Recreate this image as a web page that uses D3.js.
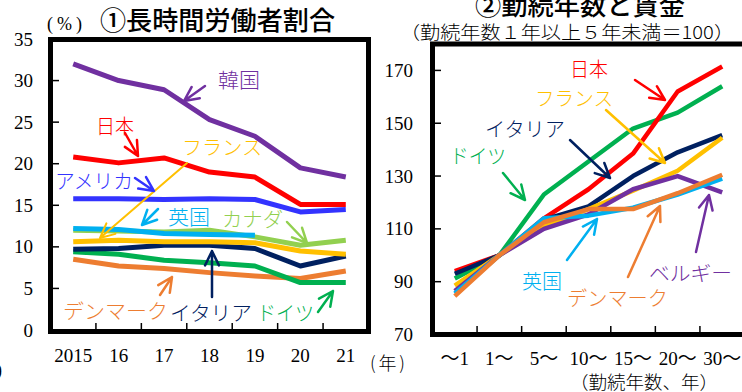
<!DOCTYPE html>
<html><head><meta charset="utf-8">
<script src="https://cdn.jsdelivr.net/npm/d3@7"></script>
<style>
html,body{margin:0;padding:0;background:#fff;}
svg{display:block;}
</style></head>
<body>
<svg id="c" width="742" height="392"></svg>
<script>
// ---------- DATA: chart 1 (long working hours share, %) ----------
const years = ["2015","16","17","18","19","20","21"];
const yTicks1 = [0,5,10,15,20,25,30,35];
const korea   = [32.0, 30.0, 28.9, 25.3, 23.3, 19.5, 18.4];
const japan   = [20.8, 20.1, 20.7, 19.0, 18.4, 15.1, 15.1];
const usa     = [15.8, 15.8, 15.7, 15.8, 15.7, 14.2, 14.5];
const uk1     = [12.2, 12.1, 11.6, 11.5, 11.4];
const canada  = [12.0, 11.9, 11.8, 12.0, 11.2, 10.2, 10.8];
const france1 = [10.6, 10.8, 10.6, 10.6, 10.5,  9.5,  9.1];
const italy1  = [ 9.7,  9.8, 10.2, 10.2,  9.8,  7.7,  8.9];
const germany1= [ 9.4,  9.1,  8.4,  8.1,  7.7,  5.7,  5.7];
const denmark1= [ 8.5,  7.7,  7.4,  6.9,  6.5,  6.2,  7.1];

// ---------- DATA: chart 2 (tenure and wage, 1-5yrs = 100) ----------
const tenure = ["～1","1～","5～","10～","15～","20～","30～"];
const yTicks2 = [70,90,110,130,150,170];
const germany2= [91.2, 100, 123.0, 135.5, 148.0, 154.0, 164.0];
const japan2  = [94.0, 100, 114.0, 125.0, 138.5, 162.0, 171.5];
const italy2  = [93.0, 100, 113.5, 118.5, 130.0, 139.0, 145.5];
const france2 = [88.5, 100, 111.0, 117.5, 124.5, 132.0, 144.5];
const belgium = [86.5, 100, 110.0, 115.5, 125.0, 130.0, 123.8];
const uk2     = [85.5, 100, 114.0, 115.0, 118.0, 123.0, 129.0];
const denmark2= [84.5, 100, 112.5, 117.5, 117.5, 123.5, 130.5];

// ---------- styles ----------
const C = {kr:"#7030A0", jp:"#FF0000", us:"#3333FF", uk:"#00B0F0", ca:"#92D050",
           fr:"#FFC000", it:"#002060", de:"#00B050", dk:"#ED7D31", be:"#7030A0"};
const serif = "'Liberation Serif','Noto Sans CJK JP',serif";
const jfont = "'Noto Sans CJK JP','Noto Sans',sans-serif";

const svg = d3.select("#c");

// ---------- chart 1 ----------
const x1 = d3.scaleBand().domain(years).range([50.5, 368.5]);
const y1 = d3.scaleLinear().domain([0,35]).range([330, 39]);
const series1 = [
  {v:denmark1,c:C.dk},{v:germany1,c:C.de},{v:italy1,c:C.it},{v:france1,c:C.fr},
  {v:canada,c:C.ca},{v:uk1,c:C.uk},{v:usa,c:C.us},{v:japan,c:C.jp},{v:korea,c:C.kr}
];
const g1 = svg.append("g");
const line1 = d3.line().x((d,i)=>x1(years[i])+x1.bandwidth()/2).y(d=>y1(d));
series1.forEach(s=>{
  g1.append("path").attr("d",line1(s.v)).attr("fill","none").attr("stroke",s.c)
    .attr("stroke-width",5).attr("stroke-linejoin","round");
});
// frame
g1.append("rect").attr("x",50.5).attr("y",39.5).attr("width",318).attr("height",292)
  .attr("fill","none").attr("stroke","#000").attr("stroke-width",5);
// y ticks inside
yTicks1.forEach(t=>{
  if(t>0 && t<35) g1.append("line").attr("x1",53).attr("x2",59).attr("y1",y1(t)).attr("y2",y1(t)).attr("stroke","#000").attr("stroke-width",1.5);
  g1.append("text").attr("x",33).attr("y",y1(t)).attr("text-anchor","end").attr("dominant-baseline","central")
    .attr("font-family",serif).attr("font-size",19).text(t);
});
years.forEach((yv,i)=>{
  if(i>0){ const bx=x1(yv); g1.append("line").attr("x1",bx).attr("x2",bx).attr("y1",329).attr("y2",323).attr("stroke","#000").attr("stroke-width",1.5);}
  g1.append("text").attr("x",x1(yv)+x1.bandwidth()/2).attr("y",355).attr("text-anchor","middle").attr("dominant-baseline","central")
    .attr("font-family",serif).attr("font-size",19).text(yv);
});
g1.append("text").attr("x",47).attr("y",24).attr("dominant-baseline","central").attr("font-family",serif)
  .attr("font-size",18).attr("textLength",35).text("(%)");
g1.append("text").attr("x",100).attr("y",30).attr("font-family",jfont).attr("font-weight",500)
  .attr("font-size",26).attr("textLength",235).attr("lengthAdjust","spacingAndGlyphs").text("①長時間労働者割合");
g1.append("text").attr("x",370).attr("y",362).attr("dominant-baseline","central").attr("font-family",jfont)
  .attr("font-weight",300).attr("font-size",18).attr("textLength",35).text("(年)");
svg.append("text").attr("x",-4).attr("y",370).attr("dominant-baseline","central").attr("font-family",serif)
  .attr("font-size",18).text(")");

// ---------- chart 2 ----------
const x2 = d3.scaleBand().domain(tenure).range([432.5, 744.5]);
const y2 = d3.scaleLinear().domain([70,180]).range([334.5, 44]);
const series2 = [
  {v:germany2,c:C.de},{v:japan2,c:C.jp},{v:italy2,c:C.it},{v:france2,c:C.fr},
  {v:belgium,c:C.be},{v:uk2,c:C.uk},{v:denmark2,c:C.dk}
];
const g2 = svg.append("g");
const line2 = d3.line().x((d,i)=>x2(tenure[i])+x2.bandwidth()/2).y(d=>y2(d));
series2.forEach(s=>{
  g2.append("path").attr("d",line2(s.v)).attr("fill","none").attr("stroke",s.c)
    .attr("stroke-width",4.5).attr("stroke-linejoin","round");
});
g2.append("rect").attr("x",432.5).attr("y",44).attr("width",320).attr("height",290.5)
  .attr("fill","none").attr("stroke","#000").attr("stroke-width",5);
yTicks2.forEach(t=>{
  if(t>70) g2.append("line").attr("x1",435).attr("x2",441).attr("y1",y2(t)).attr("y2",y2(t)).attr("stroke","#000").attr("stroke-width",1.5);
  g2.append("text").attr("x",413).attr("y",y2(t)).attr("text-anchor","end").attr("dominant-baseline","central")
    .attr("font-family",serif).attr("font-size",19).text(t);
});
tenure.forEach((tv,i)=>{
  if(i>0){ const bx=x2(tv); g2.append("line").attr("x1",bx).attr("x2",bx).attr("y1",332).attr("y2",326).attr("stroke","#000").attr("stroke-width",1.5);}
  g2.append("text").attr("x",x2(tv)+x2.bandwidth()/2).attr("y",358).attr("text-anchor","middle").attr("dominant-baseline","central")
    .attr("font-family",serif).attr("font-size",19).text(tv);
});
g2.append("text").attr("x",475).attr("y",15).attr("font-family",jfont).attr("font-weight",500)
  .attr("font-size",25).attr("textLength",210).attr("lengthAdjust","spacingAndGlyphs").text("②勤続年数と賃金");
g2.append("text").attr("x",400).attr("y",31).attr("dominant-baseline","central").attr("font-family",jfont)
  .attr("font-weight",300).attr("font-size",18).attr("textLength",334).attr("lengthAdjust","spacingAndGlyphs")
  .text("（勤続年数１年以上５年未満＝100）");
g2.append("text").attr("x",570).attr("y",381).attr("dominant-baseline","central").attr("font-family",jfont)
  .attr("font-weight",300).attr("font-size",18).attr("textLength",148).attr("lengthAdjust","spacingAndGlyphs")
  .text("（勤続年数、年）");

// ---------- annotations ----------
const labels = [
  {t:"韓国",x:218,y:79,w:42,c:C.kr},
  {t:"日本",x:96,y:125,w:38,c:C.jp},
  {t:"フランス",x:182,y:146,w:80,c:C.fr},
  {t:"アメリカ",x:55,y:180,w:78,c:C.us},
  {t:"英国",x:168,y:216,w:42,c:C.uk},
  {t:"カナダ",x:222,y:218,w:61,c:C.ca},
  {t:"デンマーク",x:63,y:310,w:105,c:C.dk},
  {t:"イタリア",x:170,y:312,w:82,c:C.it},
  {t:"ドイツ",x:257,y:312,w:57,c:C.de},
  {t:"日本",x:570,y:68,w:38,c:C.jp},
  {t:"フランス",x:535,y:97,w:78,c:C.fr},
  {t:"イタリア",x:485,y:128,w:80,c:C.it},
  {t:"ドイツ",x:450,y:155,w:56,c:C.de},
  {t:"英国",x:522,y:280,w:40,c:C.uk},
  {t:"デンマーク",x:567,y:297,w:101,c:C.dk},
  {t:"ベルギー",x:649,y:272,w:83,c:C.be}
];
labels.forEach(l=>{
  svg.append("text").attr("x",l.x).attr("y",l.y).attr("dominant-baseline","central")
    .attr("font-family",jfont).attr("font-weight",300).attr("font-size",20)
    .attr("textLength",l.w).attr("lengthAdjust","spacingAndGlyphs").attr("fill",l.c).text(l.t);
});
const arrows = [
  {x1:205,y1:86,x2:184,y2:101,c:C.kr,w:2.5},
  {x1:125,y1:133,x2:138,y2:156,c:C.jp,w:2.5},
  {x1:187,y1:163,x2:100,y2:238,c:C.fr,w:2},
  {x1:135,y1:178,x2:154,y2:191,c:C.us,w:2.5},
  {x1:158,y1:209,x2:142,y2:225,c:C.uk,w:2.5},
  {x1:287,y1:222,x2:307,y2:243,c:C.ca,w:2.5},
  {x1:160,y1:295,x2:172,y2:277,c:C.dk,w:2.5},
  {x1:212,y1:297,x2:212,y2:251,c:C.it,w:2.5},
  {x1:318,y1:312,x2:333,y2:291,c:C.de,w:2.5},
  {x1:635,y1:80,x2:665,y2:100,c:C.jp,w:2.5},
  {x1:606,y1:110,x2:665,y2:163,c:C.fr,w:2.5},
  {x1:570,y1:140,x2:610,y2:178,c:C.it,w:2.5},
  {x1:503,y1:173,x2:525,y2:200,c:C.de,w:2.5},
  {x1:567,y1:260,x2:597,y2:219,c:C.uk,w:2.5},
  {x1:628,y1:277,x2:660,y2:206,c:C.dk,w:2.5},
  {x1:696,y1:252,x2:709,y2:195,c:C.be,w:2.5}
];
arrows.forEach(a=>{
  const ang = Math.atan2(a.y2-a.y1, a.x2-a.x1), L=16, sp=Math.PI/7;
  const h1=[a.x2-L*Math.cos(ang-sp), a.y2-L*Math.sin(ang-sp)];
  const h2=[a.x2-L*Math.cos(ang+sp), a.y2-L*Math.sin(ang+sp)];
  svg.append("path").attr("d",`M${a.x1},${a.y1}L${a.x2},${a.y2}M${h1[0]},${h1[1]}L${a.x2},${a.y2}L${h2[0]},${h2[1]}`)
    .attr("fill","none").attr("stroke",a.c).attr("stroke-width",a.w).attr("stroke-linecap","round").attr("stroke-linejoin","round");
});
</script>
</body></html>
